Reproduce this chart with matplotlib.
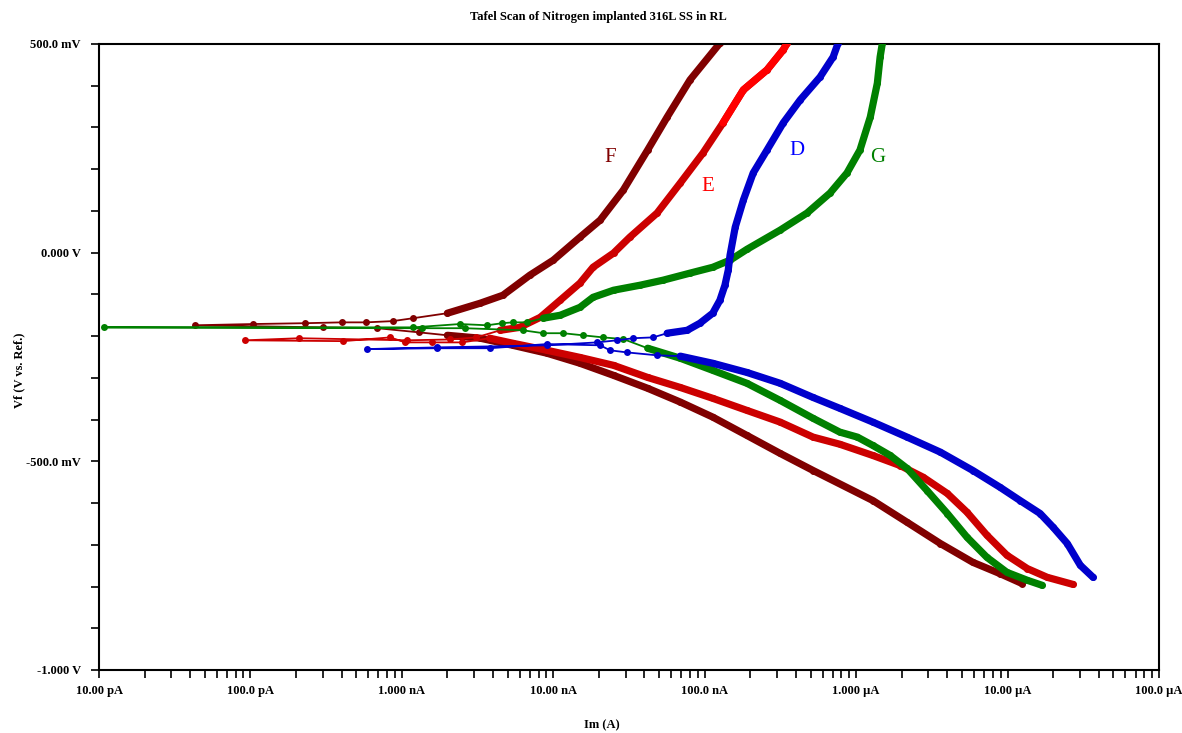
import numpy as np
import matplotlib
matplotlib.use("Agg")
import matplotlib.pyplot as plt
from matplotlib.ticker import LogLocator, MultipleLocator, NullFormatter

plt.rcParams['font.family'] = ['Liberation Serif', 'DejaVu Serif']

# --- data (scan order: cathodic -> Ecorr -> anodic) ---
f_current = [1.25e-5, 8.9e-6, 5.9e-6, 3.6e-6, 2.17e-6, 1.29e-6, 5.2e-7, 3.15e-7, 1.9e-7,
             1.13e-7, 6.9e-8, 4.2e-8, 2.5e-8, 1.5e-8, 9.1e-9, 5.4e-9, 3.3e-9, 2.0e-9,
             1.3e-9, 6.9e-10, 3.0e-10, 4.3e-11, 1.04e-10, 2.3e-10, 4.0e-10, 5.8e-10, 8.7e-10, 1.19e-9,
             2.0e-9, 3.3e-9, 4.65e-9, 7.0e-9, 1.0e-8, 1.5e-8, 2.04e-8, 2.9e-8, 4.2e-8, 5.65e-8,
             8.0e-8, 1.26e-7]
f_potential = [-0.793, -0.769, -0.742, -0.697, -0.646, -0.594, -0.522, -0.481, -0.438,
               -0.394, -0.358, -0.325, -0.294, -0.265, -0.241, -0.222, -0.205, -0.198,
               -0.191, -0.181, -0.179, -0.174, -0.171, -0.169, -0.167, -0.167, -0.164, -0.157,
               -0.145, -0.121, -0.102, -0.054, -0.018, 0.037, 0.078, 0.150, 0.246, 0.325,
               0.414, 0.502]

e_current = [2.71e-5, 1.83e-5, 1.35e-5, 9.9e-6, 7.3e-6, 5.4e-6, 4.0e-6, 2.77e-6, 1.95e-6,
             1.29e-6, 7.8e-7, 5.2e-7, 3.15e-7, 1.9e-7, 1.13e-7, 6.9e-8, 4.2e-8, 2.5e-8,
             1.5e-8, 9.1e-9, 5.4e-9, 3.8e-9,
             2.5e-9, 1.58e-9, 1.05e-9, 8.4e-10, 4.1e-10, 9.2e-11, 2.1e-10, 1.08e-9, 2.08e-9, 3.1e-9,
             4.46e-9, 6.0e-9, 8.2e-9, 1.11e-8, 1.5e-8, 1.83e-8, 2.5e-8, 3.2e-8, 4.85e-8,
             6.9e-8, 9.75e-8, 1.32e-7, 1.8e-7, 2.58e-7, 3.3e-7, 3.5e-7]
e_potential = [-0.795, -0.778, -0.757, -0.725, -0.677, -0.622, -0.577, -0.538, -0.510,
               -0.486, -0.459, -0.442, -0.406, -0.378, -0.349, -0.323, -0.299, -0.270,
               -0.251, -0.234, -0.217, -0.205,
               -0.215, -0.215, -0.215, -0.203, -0.212, -0.210, -0.205, -0.210, -0.208, -0.203,
               -0.186, -0.179, -0.155, -0.114, -0.073, -0.035, -0.001, 0.037, 0.095,
               0.167, 0.239, 0.311, 0.390, 0.438, 0.486, 0.502]

d_current = [3.67e-5, 3.02e-5, 2.48e-5, 2.0e-5, 1.64e-5, 1.21e-5, 8.9e-6, 5.9e-6, 3.6e-6,
             2.17e-6, 1.29e-6, 7.8e-7, 5.2e-7, 3.15e-7, 1.9e-7, 1.13e-7, 6.9e-8,
             4.85e-8, 3.07e-8, 2.37e-8, 2.04e-8, 9.1e-9, 3.8e-9, 1.7e-9, 5.9e-10, 1.7e-9,
             9.1e-9, 1.94e-8, 2.64e-8, 3.37e-8, 4.56e-8,
             5.65e-8, 7.66e-8, 9.3e-8, 1.13e-7, 1.26e-7, 1.36e-7, 1.43e-7, 1.47e-7, 1.59e-7,
             1.8e-7, 2.09e-7, 2.58e-7, 3.3e-7, 4.27e-7, 5.78e-7, 7.05e-7, 7.6e-7]
d_potential = [-0.778, -0.749, -0.697, -0.658, -0.625, -0.594, -0.562, -0.522, -0.478,
               -0.442, -0.406, -0.373, -0.347, -0.313, -0.287, -0.265, -0.248,
               -0.246, -0.239, -0.234, -0.222, -0.219, -0.229, -0.229, -0.231, -0.227,
               -0.222, -0.215, -0.210, -0.205, -0.203,
               -0.193, -0.186, -0.169, -0.145, -0.114, -0.078, -0.042, -0.006, 0.061,
               0.126, 0.191, 0.246, 0.311, 0.366, 0.421, 0.469, 0.502]

g_current = [1.69e-5, 1.35e-5, 9.9e-6, 7.3e-6, 5.4e-6, 4.0e-6, 2.94e-6, 2.17e-6, 1.68e-6,
             1.29e-6, 1.02e-6, 7.8e-7, 5.2e-7, 3.15e-7, 1.9e-7, 1.13e-7, 6.9e-8, 4.2e-8,
             2.9e-8, 2.13e-8, 1.57e-8, 1.16e-8, 8.6e-9, 6.3e-9, 2.6e-9, 1.36e-9, 1.08e-11,
             1.19e-9, 2.42e-9, 3.66e-9, 4.6e-9, 5.4e-9, 6.7e-9,
             8.6e-9, 1.11e-8, 1.5e-8, 1.83e-8, 2.5e-8, 3.74e-8, 5.3e-8, 8.0e-8, 1.13e-7,
             1.47e-7, 1.9e-7, 3.15e-7, 4.74e-7, 6.73e-7, 8.7e-7, 1.06e-6, 1.24e-6, 1.38e-6,
             1.44e-6, 1.49e-6]
g_potential = [-0.797, -0.785, -0.766, -0.730, -0.682, -0.625, -0.570, -0.517, -0.486,
               -0.462, -0.442, -0.430, -0.397, -0.354, -0.313, -0.282, -0.253, -0.229,
               -0.207, -0.203, -0.198, -0.193, -0.193, -0.186, -0.181, -0.181, -0.179,
               -0.179, -0.171, -0.174, -0.169, -0.167, -0.167,
               -0.157, -0.150, -0.131, -0.107, -0.090, -0.078, -0.066, -0.049, -0.035,
               -0.018, 0.008, 0.054, 0.095, 0.143, 0.191, 0.246, 0.325, 0.406,
               0.469, 0.502]

x_ticks = [1e-11, 1e-10, 1e-9, 1e-8, 1e-7, 1e-6, 1e-5, 1e-4]
x_labels = ['10.00 pA', '100.0 pA', '1.000 nA', '10.00 nA', '100.0 nA',
            '1.000 \u00b5A', '10.00 \u00b5A', '100.0 \u00b5A']
y_ticks = [-1.0, -0.5, 0.0, 0.5]
y_labels = ['-1.000 V', '-500.0 mV', '0.000 V', '500.0 mV']

# name, current, potential, colour, (points in dense cathodic tail, dense anodic tail), zorder
curves = [
    ('F', f_current, f_potential, '#800000', (18, 12), 2),
    ('E', e_current, e_potential, '#cc0000', (22, 16), 3),
    ('G', g_current, g_potential, '#008000', (18, 20), 4),
    ('D', d_current, d_potential, '#0000cc', (17, 17), 5),
]

fig = plt.figure(figsize=(11.82, 7.33), dpi=100)
ax = fig.add_axes([99 / 1182, 1 - 670 / 733, 1060 / 1182, 626 / 733])

for name, cur, pot, col, (nc, na), z in curves:
    cur = np.array(cur)
    pot = np.array(pot)
    ax.plot(cur, pot, '-', color=col, lw=1.3, marker='o', ms=5, mew=0, zorder=z)
    ax.plot(cur[:nc], pot[:nc], '-', color=col, lw=5.2, solid_capstyle='round',
            solid_joinstyle='round', zorder=z)
    ax.plot(cur[-na:], pot[-na:], '-', color=col, lw=5.2, solid_capstyle='round',
            solid_joinstyle='round', zorder=z)

# top of E's anodic branch is drawn in a brighter red
ax.plot(e_current[-5:], e_potential[-5:], '-', color='#ff0000', lw=5.2,
        solid_capstyle='round', solid_joinstyle='round', zorder=3)

# curve letters
ax.text(2.37e-8, 0.229, 'F', color='#800000', fontsize=15, ha='center', va='center')
ax.text(1.05e-7, 0.159, 'E', color='#ff0000', fontsize=15, ha='center', va='center')
ax.text(4.07e-7, 0.246, 'D', color='#0000ff', fontsize=15, ha='center', va='center')
ax.text(1.38e-6, 0.227, 'G', color='#008000', fontsize=15, ha='center', va='center')

ax.set_xscale('log')
ax.set_xlim(1e-11, 1e-4)
ax.set_ylim(-1.0, 0.5)

ax.set_xticks(x_ticks)
ax.set_xticklabels(x_labels, fontsize=9, fontweight='bold')
ax.xaxis.set_minor_locator(LogLocator(base=10, subs=range(2, 10), numticks=20))
ax.xaxis.set_minor_formatter(NullFormatter())
ax.set_yticks(y_ticks)
ax.set_yticklabels(y_labels, fontsize=9, fontweight='bold')
ax.yaxis.set_minor_locator(MultipleLocator(0.1))

ax.tick_params(which='both', direction='out', length=6, width=1.2, color='black')
ax.tick_params(axis='x', pad=5)
ax.tick_params(axis='y', pad=7)
for s in ax.spines.values():
    s.set_linewidth(1.5)

ax.set_xlabel('Im (A)', fontsize=9, fontweight='bold', va='center')
ax.xaxis.set_label_coords((602 - 99) / 1060, -0.088)
ax.set_ylabel('Vf (V vs. Ref.)', fontsize=9, fontweight='bold')
ax.yaxis.set_label_coords((25 - 99) / 1060, 0.479)

fig.text(598 / 1182, 1 - 17 / 733, 'Tafel Scan of Nitrogen implanted 316L SS in RL',
         ha='center', va='center', fontsize=9, fontweight='bold')

fig.savefig('out.png', dpi=100)
